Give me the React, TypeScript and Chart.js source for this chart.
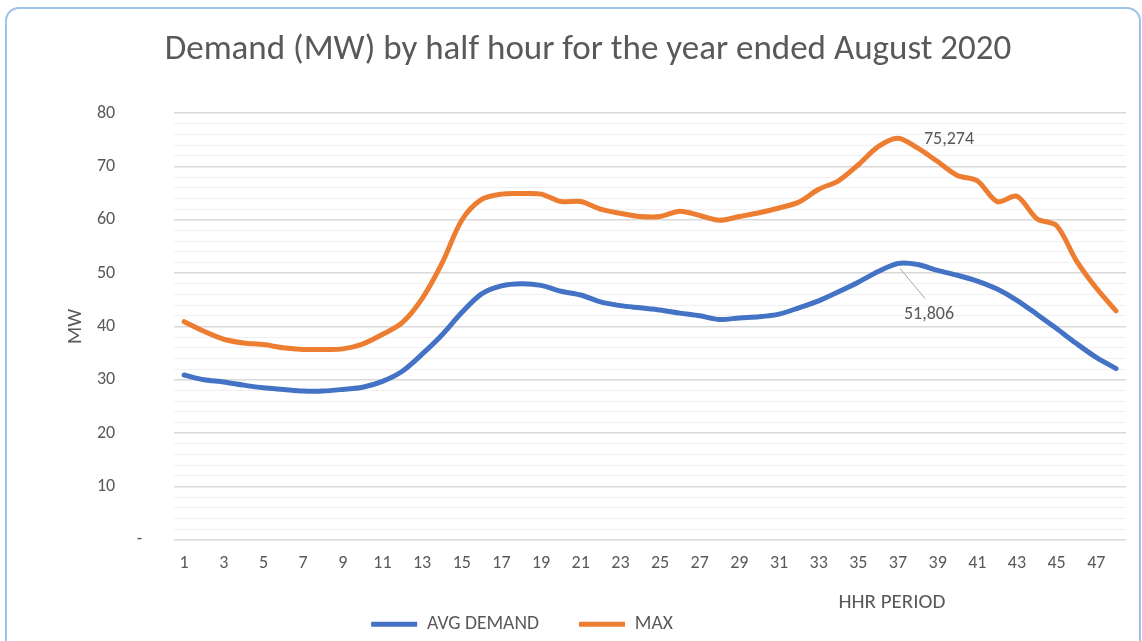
import React, { useEffect, useRef } from 'react';
import { Chart, registerables } from 'chart.js';

Chart.register(...registerables);

const periods = [
  '1', '2', '3', '4', '5', '6', '7', '8', '9', '10', '11', '12',
  '13', '14', '15', '16', '17', '18', '19', '20', '21', '22', '23', '24',
  '25', '26', '27', '28', '29', '30', '31', '32', '33', '34', '35', '36',
  '37', '38', '39', '40', '41', '42', '43', '44', '45', '46', '47', '48',
];

const avgDemand = [
  30.9, 30.0, 29.6, 29.0, 28.5, 28.2, 27.9, 27.9, 28.2, 28.6, 29.7, 31.6,
  34.8, 38.4, 42.6, 46.1, 47.6, 48.0, 47.7, 46.6, 45.9, 44.6, 43.9, 43.5,
  43.1, 42.5, 42.0, 41.3, 41.6, 41.8, 42.3, 43.5, 44.8, 46.5, 48.3, 50.3,
  51.806, 51.6, 50.5, 49.6, 48.5, 47.0, 44.9, 42.3, 39.6, 36.8, 34.2, 32.1,
];

const maxDemand = [
  40.9, 39.1, 37.6, 36.9, 36.6, 36.0, 35.7, 35.7, 35.8, 36.7, 38.5, 40.7,
  45.2, 51.8, 59.9, 63.8, 64.8, 64.9, 64.8, 63.4, 63.4, 62.0, 61.2, 60.6,
  60.6, 61.6, 60.8, 59.9, 60.6, 61.3, 62.2, 63.3, 65.7, 67.3, 70.3, 73.7,
  75.274, 73.4, 70.9, 68.3, 67.3, 63.4, 64.4, 60.2, 58.9, 52.3, 47.2, 42.9,
];

const seriesNames = ['AVG DEMAND', 'MAX'];
const titleText = 'Demand (MW) by half hour for the year ended August 2020';
const xTitleText = 'HHR PERIOD';
const yTitleText = 'MW';

const FONT = 'Carlito, Lato, "Open Sans", sans-serif';
const TEXT = '#595959';
const BLUE = '#4472C4';
const ORANGE = '#ED7D31';

const fmt = (v: number) => v.toFixed(3).replace('.', ',');

const annotPlugin = {
  id: 'annot',
  afterLayout(chart: any) {
    // Excel places the legend a bit left of centre
    if (chart.legend) {
      chart.legend.left -= 66;
      chart.legend.right -= 66;
    }
  },
  afterDatasetsDraw(chart: any) {
    const ctx = chart.ctx;
    const area = chart.chartArea;
    ctx.save();
    ctx.font = `18px ${FONT}`;
    ctx.fillStyle = TEXT;
    ctx.textAlign = 'center';
    ctx.textBaseline = 'middle';

    const mi = maxDemand.indexOf(Math.max(...maxDemand));
    const mp = chart.getDatasetMeta(1).data[mi];
    ctx.fillText(fmt(maxDemand[mi]), mp.x + 51, mp.y + 1);

    const ai = avgDemand.indexOf(Math.max(...avgDemand));
    const ap = chart.getDatasetMeta(0).data[ai];
    ctx.strokeStyle = '#A6A6A6';
    ctx.lineWidth = 1;
    ctx.beginPath();
    ctx.moveTo(ap.x + 2, ap.y + 5);
    ctx.lineTo(ap.x + 27, ap.y + 35);
    ctx.stroke();
    ctx.fillText(fmt(avgDemand[ai]), ap.x + 31, ap.y + 51);

    ctx.font = `21px ${FONT}`;
    ctx.fillText(xTitleText, area.left + (area.right - area.left) * 0.754, area.bottom + 63);
    ctx.restore();
  },
};

export default function App() {
  const ref = useRef<HTMLCanvasElement | null>(null);

  useEffect(() => {
    if (!ref.current) return;
    const chart = new Chart(ref.current, {
      type: 'line',
      data: {
        labels: periods,
        datasets: [
          {
            label: seriesNames[0],
            data: avgDemand,
            borderColor: BLUE,
            backgroundColor: BLUE,
            borderWidth: 5,
            borderCapStyle: 'round',
            borderJoinStyle: 'round',
            pointRadius: 0,
            tension: 0.3,
          },
          {
            label: seriesNames[1],
            data: maxDemand,
            borderColor: ORANGE,
            backgroundColor: ORANGE,
            borderWidth: 5,
            borderCapStyle: 'round',
            borderJoinStyle: 'round',
            pointRadius: 0,
            tension: 0.3,
          },
        ],
      },
      options: {
        responsive: false,
        animation: false,
        devicePixelRatio: 1,
        layout: { padding: { left: 50, right: 16, top: 29, bottom: -3 } },
        plugins: {
          title: {
            display: true,
            text: titleText,
            color: TEXT,
            font: { family: FONT, size: 35, weight: 'normal' },
            padding: { top: 0, bottom: 42 },
          },
          legend: {
            position: 'bottom',
            labels: {
              usePointStyle: true,
              pointStyle: 'line',
              pointStyleWidth: 46,
              color: TEXT,
              font: { family: FONT, size: 19.5 },
              padding: 40,
            },
          },
          tooltip: { enabled: false },
        },
        scales: {
          x: {
            offset: true,
            grid: { display: false, drawTicks: true, tickLength: 13 },
            border: { display: false },
            ticks: {
              color: TEXT,
              font: { family: FONT, size: 18 },
              autoSkip: false,
              maxRotation: 0,
              padding: 0,
              callback: (_v: any, i: number) => (i % 2 === 0 ? periods[i] : ''),
            },
          },
          y: {
            min: 0,
            max: 80,
            border: { display: false },
            grid: {
              drawTicks: true,
              tickLength: 32,
              tickColor: 'rgba(0,0,0,0)',
              color: (c: any) => (c.tick && c.tick.value % 10 === 0 ? '#D9D9D9' : '#F0F0F0'),
              lineWidth: (c: any) => (c.tick && c.tick.value % 10 === 0 ? 1.5 : 1),
            },
            ticks: {
              stepSize: 2,
              autoSkip: false,
              color: TEXT,
              font: { family: FONT, size: 18 },
              padding: 0,
              callback: (v: any) =>
                v % 10 === 0 ? (v === 0 ? '-' : String(v) + '\u2003\u2002') : '',
            },
            title: {
              display: true,
              text: yTitleText,
              color: TEXT,
              font: { family: FONT, size: 20 },
              padding: { top: 13.5, bottom: 9.5 },
            },
          },
        },
      },
      plugins: [annotPlugin],
    });
    return () => chart.destroy();
  }, []);

  return (
    <div style={{ position: 'fixed', left: 0, top: 0, width: 1142, height: 641, overflow: 'hidden', background: '#fff' }}>
      <canvas ref={ref} width={1142} height={641} style={{ position: 'absolute', left: 0, top: 0 }} />
      <div
        style={{
          position: 'absolute',
          left: 5,
          top: 7,
          width: 1132,
          height: 700,
          border: '2px solid #9DC3E6',
          borderRadius: 14,
          pointerEvents: 'none',
        }}
      />
    </div>
  );
}
